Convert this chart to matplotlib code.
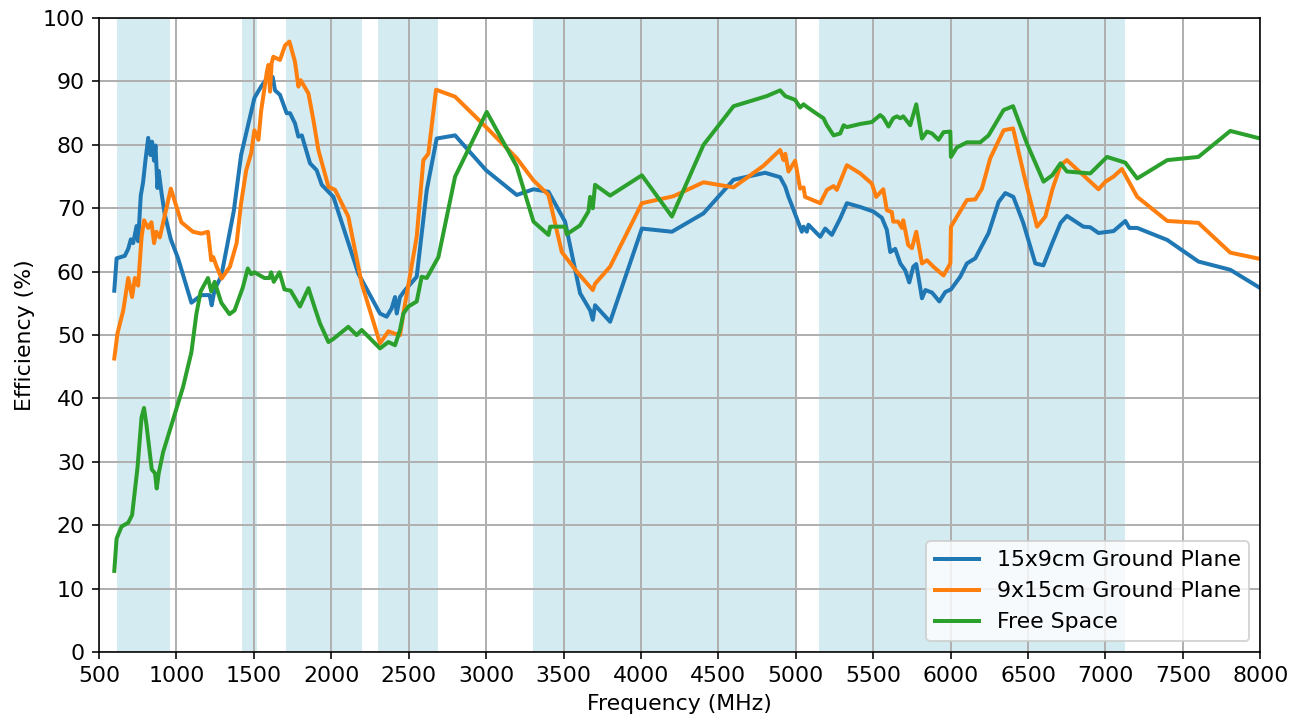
import numpy as np
import matplotlib
matplotlib.use("Agg")
import matplotlib.pyplot as plt

plt.rcParams['font.size'] = 11

# shaded frequency bands (MHz)
bands = [(617, 960), (1427, 1518), (1710, 2200), (2300, 2690), (3300, 5000), (5150, 7125)]

# 15x9cm ground plane
freq_gp1 = [599, 614, 667, 689, 706, 721, 743, 753, 770, 785, 800, 818, 833, 843, 856, 865, 878, 886,
            903, 925, 964, 1011, 1097, 1161, 1215, 1228, 1247, 1290, 1371, 1418, 1461, 1504, 1547, 1601,
            1622, 1637, 1669, 1712, 1734, 1766, 1788, 1810, 1863, 1906, 1939, 2014, 2175, 2315, 2358,
            2390, 2412, 2423, 2444, 2477, 2552, 2617, 2681, 2800, 3000, 3198, 3306, 3403, 3510, 3607,
            3672, 3689, 3704, 3801, 4006, 4200, 4404, 4598, 4802, 4899, 4932, 4953, 4974, 5039, 5050,
            5071, 5082, 5158, 5190, 5233, 5287, 5330, 5416, 5500, 5556, 5588, 5610, 5642, 5675, 5707,
            5733, 5759, 5778, 5815, 5837, 5880, 5927, 5966, 6002, 6062, 6105, 6159, 6245, 6310, 6353,
            6405, 6469, 6547, 6599, 6656, 6710, 6751, 6857, 6902, 6955, 7052, 7128, 7154, 7205, 7399,
            7600, 7806, 8000]
eff_gp1 = [57.0, 62.1, 62.5, 63.6, 65.1, 64.5, 67.2, 64.8, 72.0, 74.1, 77.5, 81.1, 78.4, 80.5, 77.5, 79.9,
           73.2, 75.9, 72.6, 69.0, 65.1, 62.1, 55.1, 56.3, 56.3, 54.7, 57.2, 59.3, 69.6, 78.4, 82.9, 87.4,
           89.2, 91.0, 90.7, 88.6, 87.9, 85.0, 85.0, 83.4, 81.3, 81.5, 77.1, 76.0, 73.7, 71.8, 59.7, 53.4,
           52.9, 54.2, 56.0, 53.4, 56.0, 57.1, 59.2, 72.9, 81.0, 81.5, 76.0, 72.1, 73.0, 72.6, 67.9, 56.6,
           53.9, 52.4, 54.7, 52.1, 66.8, 66.3, 69.2, 74.5, 75.6, 74.9, 73.4, 71.8, 70.5, 66.3, 67.1, 66.3,
           67.4, 65.5, 66.8, 65.8, 68.4, 70.8, 70.2, 69.5, 68.5, 66.6, 63.1, 63.6, 61.3, 60.2, 58.3, 60.8,
           61.2, 55.8, 57.1, 56.7, 55.3, 56.8, 57.2, 59.2, 61.3, 62.1, 66.1, 71.0, 72.4, 71.8, 67.7, 61.3,
           61.0, 64.5, 67.7, 68.8, 67.1, 67.0, 66.1, 66.4, 68.0, 66.9, 66.9, 65.0, 61.6, 60.3, 57.4]

# 9x15cm ground plane
freq_gp2 = [599, 620, 657, 689, 714, 732, 753, 775, 791, 818, 839, 856, 871, 893, 964, 1032, 1107, 1161,
            1204, 1225, 1238, 1260, 1292, 1346, 1389, 1418, 1451, 1483, 1504, 1530, 1547, 1569, 1583,
            1594, 1605, 1615, 1626, 1669, 1702, 1730, 1766, 1788, 1803, 1853, 1885, 1917, 1982, 2025,
            2110, 2197, 2315, 2369, 2412, 2444, 2466, 2552, 2595, 2627, 2677, 2800, 3000, 3198, 3306,
            3403, 3489, 3586, 3672, 3689, 3704, 3801, 4006, 4210, 4404, 4598, 4791, 4899, 4921, 4932,
            4953, 4996, 5028, 5050, 5060, 5158, 5201, 5244, 5265, 5330, 5416, 5491, 5519, 5565, 5588,
            5620, 5629, 5661, 5685, 5694, 5726, 5750, 5778, 5815, 5847, 5888, 5954, 5998, 6002, 6105,
            6159, 6202, 6256, 6342, 6403, 6482, 6558, 6612, 6656, 6710, 6751, 6955, 7000, 7052, 7106,
            7205, 7399, 7600, 7806, 8000]
eff_gp2 = [46.3, 50.3, 53.9, 59.0, 56.0, 59.0, 57.8, 65.4, 68.1, 66.9, 67.8, 64.5, 66.3, 65.4, 73.1, 67.8,
           66.3, 66.0, 66.3, 61.8, 62.3, 60.8, 58.9, 60.8, 64.5, 70.8, 76.0, 78.7, 82.3, 80.8, 85.3, 88.9,
           91.3, 92.6, 88.4, 92.9, 93.9, 93.4, 95.7, 96.3, 93.1, 89.2, 90.2, 88.1, 83.9, 79.2, 73.4, 72.9,
           68.7, 58.1, 48.7, 50.6, 50.2, 50.0, 53.4, 65.5, 77.6, 78.6, 88.7, 87.6, 82.8, 77.9, 74.4, 72.1,
           63.1, 60.0, 57.6, 57.1, 58.1, 60.8, 70.8, 71.9, 74.1, 73.3, 76.7, 79.2, 77.6, 78.6, 75.8, 77.5,
           73.1, 73.3, 71.8, 70.8, 72.9, 73.5, 72.9, 76.8, 75.5, 73.9, 71.8, 73.0, 69.7, 69.4, 67.9, 67.9,
           66.9, 68.1, 64.2, 63.7, 66.3, 61.3, 61.8, 60.8, 59.4, 61.3, 67.1, 71.3, 71.4, 73.1, 77.9, 82.3,
           82.6, 74.4, 67.1, 68.7, 72.9, 76.8, 77.6, 73.0, 74.2, 75.0, 76.2, 71.8, 68.0, 67.7, 63.0, 62.0]

# free space
freq_fs = [599, 614, 646, 689, 714, 749, 775, 791, 807, 841, 862, 873, 886, 914, 968, 1043, 1097, 1129,
           1157, 1204, 1225, 1247, 1290, 1343, 1376, 1429, 1461, 1483, 1504, 1569, 1601, 1612, 1629,
           1666, 1698, 1738, 1798, 1853, 1895, 1928, 1982, 2014, 2110, 2164, 2197, 2315, 2369, 2412,
           2444, 2466, 2498, 2552, 2584, 2617, 2692, 2800, 3004, 3198, 3306, 3403, 3414, 3510, 3521,
           3607, 3661, 3672, 3689, 3704, 3801, 4006, 4200, 4404, 4598, 4813, 4899, 4932, 4996, 5028,
           5050, 5071, 5136, 5179, 5201, 5244, 5287, 5309, 5330, 5416, 5491, 5545, 5565, 5599, 5629,
           5653, 5675, 5694, 5739, 5778, 5815, 5847, 5880, 5922, 5954, 5998, 6002, 6040, 6105, 6191,
           6245, 6342, 6403, 6493, 6600, 6656, 6710, 6751, 6902, 7010, 7128, 7205, 7399, 7600, 7806, 8000]
eff_fs = [12.8, 17.9, 19.8, 20.4, 21.6, 29.1, 37.0, 38.5, 35.8, 28.8, 28.2, 25.8, 28.2, 31.5, 35.8, 41.8,
          47.3, 53.3, 56.9, 59.0, 56.9, 58.4, 55.1, 53.3, 53.9, 57.5, 60.5, 59.6, 59.9, 59.0, 59.0, 59.9,
          58.4, 59.9, 57.2, 57.0, 54.5, 57.4, 54.2, 51.8, 48.9, 49.4, 51.3, 50.0, 50.8, 47.9, 48.9, 48.4,
          50.8, 53.4, 54.5, 55.3, 59.2, 59.0, 62.3, 75.0, 85.2, 76.6, 67.9, 65.8, 67.1, 67.1, 65.9, 67.3,
          69.5, 71.8, 70.0, 73.7, 72.0, 75.2, 68.7, 80.0, 86.1, 87.7, 88.6, 87.7, 87.1, 85.9, 86.4, 86.0,
          84.9, 84.2, 83.1, 81.5, 81.8, 83.1, 82.8, 83.3, 83.6, 84.7, 84.3, 82.9, 84.2, 84.5, 84.2, 84.5,
          83.1, 86.4, 81.0, 82.1, 81.8, 80.8, 82.0, 82.1, 78.1, 79.6, 80.4, 80.4, 81.5, 85.5, 86.1, 80.2,
          74.2, 75.2, 77.1, 75.8, 75.5, 78.1, 77.2, 74.7, 77.6, 78.1, 82.2, 81.0]

fig, ax = plt.subplots(figsize=(1302 / 144, 724 / 144), dpi=144)
fig.subplots_adjust(left=0.076, right=0.968, top=0.975, bottom=0.0994)

for lo, hi in bands:
    ax.axvspan(lo, hi, color='lightblue', alpha=0.5, linewidth=0)

ax.plot(freq_gp1, eff_gp1, lw=2, label='15x9cm Ground Plane')
ax.plot(freq_gp2, eff_gp2, lw=2, label='9x15cm Ground Plane')
ax.plot(freq_fs, eff_fs, lw=2, label='Free Space')

ax.set_xlim(500, 8000)
ax.set_ylim(0, 100)
ax.set_xticks(np.arange(500, 8001, 500))
ax.set_yticks(np.arange(0, 101, 10))
ax.grid(True, linewidth=1)
ax.set_xlabel('Frequency (MHz)')
ax.set_ylabel('Efficiency (%)')
ax.legend(loc='lower right')

fig.savefig('out.png', dpi=144)
